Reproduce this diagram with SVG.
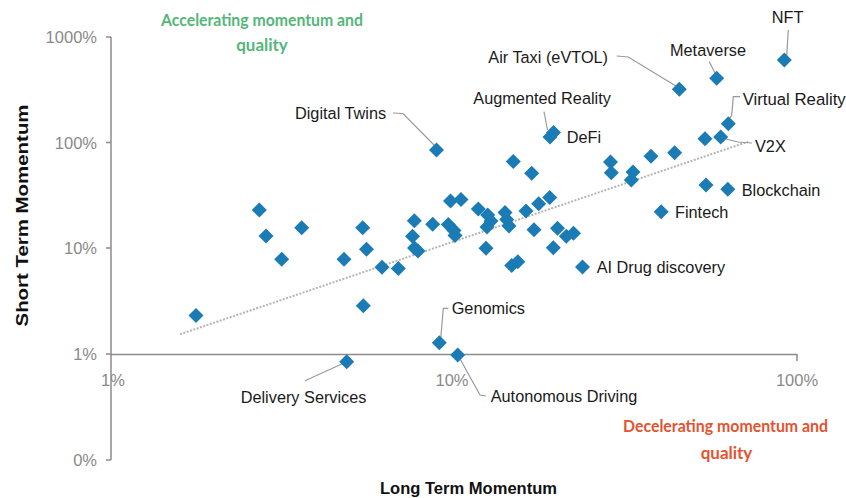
<svg xmlns="http://www.w3.org/2000/svg" xmlns:xlink="http://www.w3.org/1999/xlink" width="846" height="498" viewBox="0 0 846 498">
<defs>
<style>
.axis{stroke:#8c8c8c;stroke-width:1.5;fill:none}
.tick{font-family:"Liberation Sans",Arial,sans-serif;font-size:16.5px;fill:#8a8a8a}
.title{font-family:"Liberation Sans",Arial,sans-serif;font-size:16.5px;font-weight:bold;fill:#111}
.lab{font-family:"Liberation Sans",Arial,sans-serif;font-size:16.3px;fill:#1a1a1a}
.lead{stroke:#9a9a9a;stroke-width:1.2;fill:none}
.trend{stroke:#b5b5b5;stroke-width:2;stroke-dasharray:2 1.5;fill:none}
.quad{font-family:Lato,"Open Sans",sans-serif;font-size:17px;font-weight:bold}
.green{fill:#55b67a}
.red{fill:#e4532f}
.pt{fill:#1b7bb4}
</style>
<path id="d" d="M0,-7.5 L7.5,0 L0,7.5 L-7.5,0 Z"/>
</defs>
<rect width="846" height="498" fill="#fff"/>

<g id="axes">
<path class="axis" d="M111,37 V460"/>
<path class="axis" d="M106,37 H111 M106,142.5 H111 M106,248 H111 M106,354 H111 M106,460 H111"/>
<path class="axis" d="M111,354.5 H797 V361"/>
<text class="tick" x="97" y="43" text-anchor="end">1000%</text>
<text class="tick" x="97" y="148.5" text-anchor="end">100%</text>
<text class="tick" x="97" y="254" text-anchor="end">10%</text>
<text class="tick" x="97" y="360" text-anchor="end">1%</text>
<text class="tick" x="97" y="466" text-anchor="end">0%</text>
<text class="tick" x="113" y="386" text-anchor="middle">1%</text>
<text class="tick" x="452" y="386" text-anchor="middle">10%</text>
<text class="tick" x="797" y="386" text-anchor="middle">100%</text>
<text class="title" transform="translate(28,215.5) rotate(-90)" text-anchor="middle" textLength="222" lengthAdjust="spacingAndGlyphs">Short Term Momentum</text>
<text class="title" x="468.5" y="494" text-anchor="middle" textLength="177" lengthAdjust="spacingAndGlyphs">Long Term Momentum</text>
</g>

<g id="quadrant-labels">
<text class="quad green" x="262" y="26" text-anchor="middle" textLength="202" lengthAdjust="spacingAndGlyphs">Accelerating momentum and</text>
<text class="quad green" x="262" y="50.5" text-anchor="middle">quality</text>
<text class="quad red" x="725.5" y="432" text-anchor="middle" textLength="205" lengthAdjust="spacingAndGlyphs">Decelerating momentum and</text>
<text class="quad red" x="726.5" y="458.5" text-anchor="middle">quality</text>
</g>

<g id="connectors">
<path class="trend" d="M180,334.3 L748.3,141.7"/>
<path class="lead" d="M393,113 L403,113.5 L436,147"/>
<path class="lead" d="M616.7,56 L628.3,57 L676.7,86.5"/>
<path class="lead" d="M709.3,61.7 L716,75"/>
<path class="lead" d="M788.3,30 L786.7,56"/>
<path class="lead" d="M544,111.7 L547.5,130"/>
<path class="lead" d="M740,96.7 L733.3,96.7 L731.7,115 L728.3,121"/>
<path class="lead" d="M722,138 L738,142 L752,143"/>
<path class="lead" d="M448.3,308.3 L443.3,308.3 L440.7,339"/>
<path class="lead" d="M486,396 L480,395 L459,357"/>
<path class="lead" d="M305,380.7 L345,362.5"/>
</g>

<g id="points">
<g id="p1"><use href="#d" class="pt" x="196" y="315.5"/></g>
<g id="p2"><use href="#d" class="pt" x="259.3" y="210"/></g>
<g id="p3"><use href="#d" class="pt" x="266" y="236"/></g>
<g id="p4"><use href="#d" class="pt" x="281.7" y="259.3"/></g>
<g id="p5"><use href="#d" class="pt" x="301.7" y="227.7"/></g>
<g id="p6"><use href="#d" class="pt" x="344" y="259.3"/></g>
<g id="p7"><use href="#d" class="pt" x="362.7" y="227.7"/></g>
<g id="p8"><use href="#d" class="pt" x="366.5" y="249.3"/></g>
<g id="p9"><use href="#d" class="pt" x="363.3" y="305.7"/></g>
<g id="p10"><use href="#d" class="pt" x="382" y="267.3"/></g>
<g id="p11"><use href="#d" class="pt" x="398.3" y="268.5"/></g>
<g id="p12"><use href="#d" class="pt" x="414.3" y="220.7"/></g>
<g id="p13"><use href="#d" class="pt" x="412.5" y="236.3"/></g>
<g id="p14"><use href="#d" class="pt" x="414.5" y="248"/></g>
<g id="p15"><use href="#d" class="pt" x="418" y="251"/></g>
<g id="p16"><use href="#d" class="pt" x="432.7" y="224.3"/></g>
<g id="p17"><use href="#d" class="pt" x="448.3" y="224.5"/></g>
<g id="p18"><use href="#d" class="pt" x="454" y="230.5"/></g>
<g id="p19"><use href="#d" class="pt" x="455" y="235.5"/></g>
<g id="p20"><use href="#d" class="pt" x="450.5" y="201"/></g>
<g id="p21"><use href="#d" class="pt" x="461" y="199.5"/></g>
<g id="p22"><use href="#d" class="pt" x="478.3" y="209"/></g>
<g id="p23"><use href="#d" class="pt" x="487.7" y="215"/></g>
<g id="p24"><use href="#d" class="pt" x="491" y="221"/></g>
<g id="p25"><use href="#d" class="pt" x="487" y="227"/></g>
<g id="p26"><use href="#d" class="pt" x="486" y="248.3"/></g>
<g id="p27"><use href="#d" class="pt" x="505" y="212.5"/></g>
<g id="p28"><use href="#d" class="pt" x="506.7" y="219.5"/></g>
<g id="p29"><use href="#d" class="pt" x="509" y="226"/></g>
<g id="p30"><use href="#d" class="pt" x="526" y="211"/></g>
<g id="p31"><use href="#d" class="pt" x="538.7" y="203.7"/></g>
<g id="p32"><use href="#d" class="pt" x="549.7" y="197.5"/></g>
<g id="p33"><use href="#d" class="pt" x="513.3" y="161.5"/></g>
<g id="p34"><use href="#d" class="pt" x="531.7" y="173.3"/></g>
<g id="p35"><use href="#d" class="pt" x="534" y="229.7"/></g>
<g id="p36"><use href="#d" class="pt" x="557.5" y="228.3"/></g>
<g id="p37"><use href="#d" class="pt" x="566.3" y="236.3"/></g>
<g id="p38"><use href="#d" class="pt" x="573.5" y="233.3"/></g>
<g id="p39"><use href="#d" class="pt" x="553.3" y="247.8"/></g>
<g id="p40"><use href="#d" class="pt" x="511.7" y="265.5"/></g>
<g id="p41"><use href="#d" class="pt" x="517.8" y="261.7"/></g>
<g id="p43"><use href="#d" class="pt" x="610.5" y="162"/></g>
<g id="p44"><use href="#d" class="pt" x="611.3" y="172.7"/></g>
<g id="p45"><use href="#d" class="pt" x="633" y="172"/></g>
<g id="p46"><use href="#d" class="pt" x="631.3" y="180"/></g>
<g id="p47"><use href="#d" class="pt" x="651" y="156.3"/></g>
<g id="p48"><use href="#d" class="pt" x="674.6" y="152.7"/></g>
<g id="p49"><use href="#d" class="pt" x="705" y="138.8"/></g>
<g id="p50"><use href="#d" class="pt" x="706" y="185"/></g>
</g>

<g id="digital-twins"><use href="#d" class="pt" x="436.5" y="150"/><text class="lab" x="295" y="119">Digital Twins</text></g>
<g id="defi"><use href="#d" class="pt" x="553.5" y="132.5"/><use href="#d" class="pt" x="550" y="137"/><text class="lab" x="566.7" y="142.5">DeFi</text></g>
<g id="augmented-reality"><text class="lab" x="473.3" y="104">Augmented Reality</text></g>
<g id="air-taxi"><use href="#d" class="pt" x="679.3" y="89.3"/><text class="lab" x="488.3" y="63">Air Taxi (eVTOL)</text></g>
<g id="metaverse"><use href="#d" class="pt" x="716.7" y="78.3"/><text class="lab" x="670" y="56">Metaverse</text></g>
<g id="nft"><use href="#d" class="pt" x="784.3" y="60"/><text class="lab" x="771.7" y="22.5">NFT</text></g>
<g id="virtual-reality"><use href="#d" class="pt" x="728.3" y="123.7"/><text class="lab" x="742.7" y="105" textLength="103" lengthAdjust="spacingAndGlyphs">Virtual Reality</text></g>
<g id="v2x"><use href="#d" class="pt" x="720.7" y="137"/><text class="lab" x="755" y="151.5">V2X</text></g>
<g id="blockchain"><use href="#d" class="pt" x="727.8" y="189.3"/><text class="lab" x="741.7" y="196">Blockchain</text></g>
<g id="fintech"><use href="#d" class="pt" x="661.2" y="211.7"/><text class="lab" x="675" y="217.5">Fintech</text></g>
<g id="ai-drug-discovery"><use href="#d" class="pt" x="582.5" y="267"/><text class="lab" x="596.7" y="272.5">AI Drug discovery</text></g>
<g id="genomics"><use href="#d" class="pt" x="439.3" y="342.7"/><text class="lab" x="451.7" y="314">Genomics</text></g>
<g id="autonomous-driving"><use href="#d" class="pt" x="457.7" y="355"/><text class="lab" x="490.7" y="402">Autonomous Driving</text></g>
<g id="delivery-services"><use href="#d" class="pt" x="346.7" y="361.7"/><text class="lab" x="240.7" y="402.5">Delivery Services</text></g>
</svg>
